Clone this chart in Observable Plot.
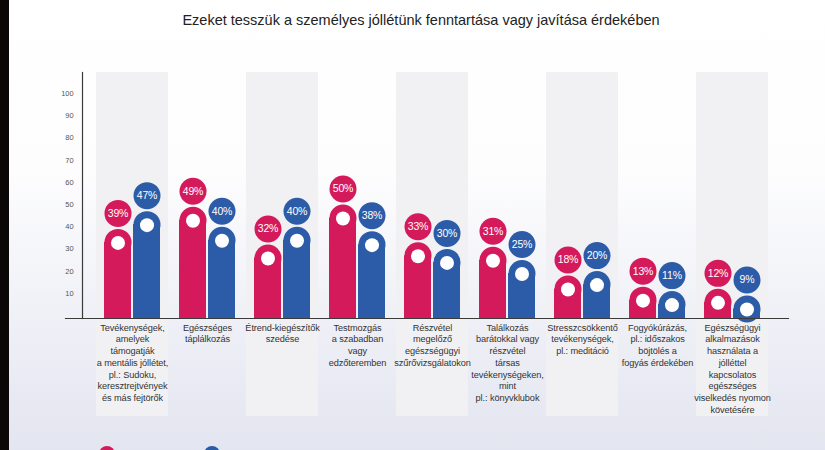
<!DOCTYPE html>
<html>
<head>
<meta charset="utf-8">
<script src="https://cdn.jsdelivr.net/npm/d3@7"></script>
<script src="https://cdn.jsdelivr.net/npm/@observablehq/plot@0.6"></script>
<style>
  html, body { margin: 0; padding: 0; width: 825px; height: 450px; overflow: hidden; }
  body {
    position: relative;
    background: linear-gradient(to bottom, #ffffff 0%, #fdfdfe 38%, #e3e5f0 100%);
    box-shadow: inset 9px 0 0 #0b0706;
    font-family: "Liberation Sans", Arial, sans-serif;
  }
  #title { height: 40px; line-height: 40px; text-align: center; font-size: 14.5px; color: #222; padding-left: 17px; box-sizing: border-box; }
  #legend { position: absolute; top: 446px; left: 99px; display: flex; gap: 89px; }
  #legend span { display: inline-block; width: 16px; height: 16px; border-radius: 50%; }
  #chart svg text { letter-spacing: -0.1px; }
</style>
</head>
<body>
<div id="title">Ezeket tesszük a személyes jóllétünk fenntartása vagy javítása érdekében</div>
<div id="chart"></div>
<div id="legend"></div>
<div id="strip" style="position:absolute;left:0;top:0;width:9px;height:450px;background:#0b0706;z-index:10;"></div>
<script>
const categories = [
  "Tevékenységek,\namelyek\ntámogatják\na mentális jóllétet,\npl.: Sudoku,\nkeresztrejtvények\nés más fejtörők",
  "Egészséges\ntáplálkozás",
  "Étrend-kiegészítők\nszedése",
  "Testmozgás\na szabadban\nvagy\nedzőteremben",
  "Részvétel\nmegelőző\negészségügyi\nszűrővizsgálatokon",
  "Találkozás\nbarátokkal vagy\nrészvétel\ntársas\ntevékenységeken,\nmint\npl.: könyvklubok",
  "Stresszcsökkentő\ntevékenységek,\npl.: meditáció",
  "Fogyókúrázás,\npl.: időszakos\nböjtölés a\nfogyás érdekében",
  "Egészségügyi\nalkalmazások\nhasználata a\njólléttel\nkapcsolatos\negészséges\nviselkedés nyomon\nkövetésére"
];
const pinkValues = [39, 49, 32, 50, 33, 31, 18, 13, 12];
const blueValues = [47, 40, 40, 38, 30, 25, 20, 11, 9];
const yTicks = [10, 20, 30, 40, 50, 60, 70, 80, 90, 100];
const pinkColor = "#d41a5b";
const blueColor = "#2c5ca7";

const pinkRows = categories.map((c, i) => ({cat: c, value: pinkValues[i]}));
const blueRows = categories.map((c, i) => ({cat: c, value: blueValues[i]}));
const shadedCats = categories.filter((c, i) => i % 2 === 0);

const font = "'Liberation Sans', Arial, sans-serif";

function seriesMarks(rows, color, side) {
  const dx = side * 14.5;
  return [
    Plot.barY(rows, {x: "cat", y: "value", fill: color,
      insetLeft: side < 0 ? 8 : 37, insetRight: side < 0 ? 37 : 8,
      insetTop: 13.5, insetBottom: -3}),
    Plot.dot(rows, {x: "cat", y: "value", r: 13.5, fill: color, dx, dy: 13.5}),
    Plot.dot(rows, {x: "cat", y: "value", r: 7, fill: "white", dx, dy: 14}),
    Plot.dot(rows, {x: "cat", y: "value", r: 13.5, fill: color, dx, dy: -15.5}),
    Plot.text(rows, {x: "cat", y: "value", text: d => d.value + "%", fill: "white",
      dx, dy: -15.5, fontSize: 10.5, fontFamily: font})
  ];
}

const chart = Plot.plot({
  width: 825,
  height: 410,
  marginTop: 32,
  marginBottom: 132,
  marginLeft: 65,
  marginRight: 37,
  style: {background: "transparent", overflow: "visible", fontFamily: font},
  x: {type: "band", domain: categories, range: [96, 769], paddingInner: 0.04, paddingOuter: 0, label: null},
  y: {domain: [0, 100], range: [275, 53], label: null},
  marks: [
    Plot.cell(shadedCats, {x: d => d, fill: "#f1f1f4", insetBottom: -98}),
    ...seriesMarks(pinkRows, pinkColor, -1),
    ...seriesMarks(blueRows, blueColor, 1),
    Plot.frame({anchor: "bottom", stroke: "#3a3a3a", strokeWidth: 1.2}),
    Plot.frame({anchor: "left", dx: 17, stroke: "#3a3a3a", strokeWidth: 1.2}),
    Plot.axisY({ticks: yTicks, tickSize: 0, tickPadding: 0, dx: 8, fontSize: 7.5, fill: "#555", label: null}),
    Plot.axisX({tickSize: 0, tickPadding: 4, fontSize: 9.2, lineHeight: 1.27, fill: "#333", label: null})
  ]
});
document.getElementById("chart").appendChild(chart);

const legend = document.getElementById("legend");
[pinkColor, blueColor].forEach(c => {
  const s = document.createElement("span");
  s.style.background = c;
  legend.appendChild(s);
});
</script>
</body>
</html>
